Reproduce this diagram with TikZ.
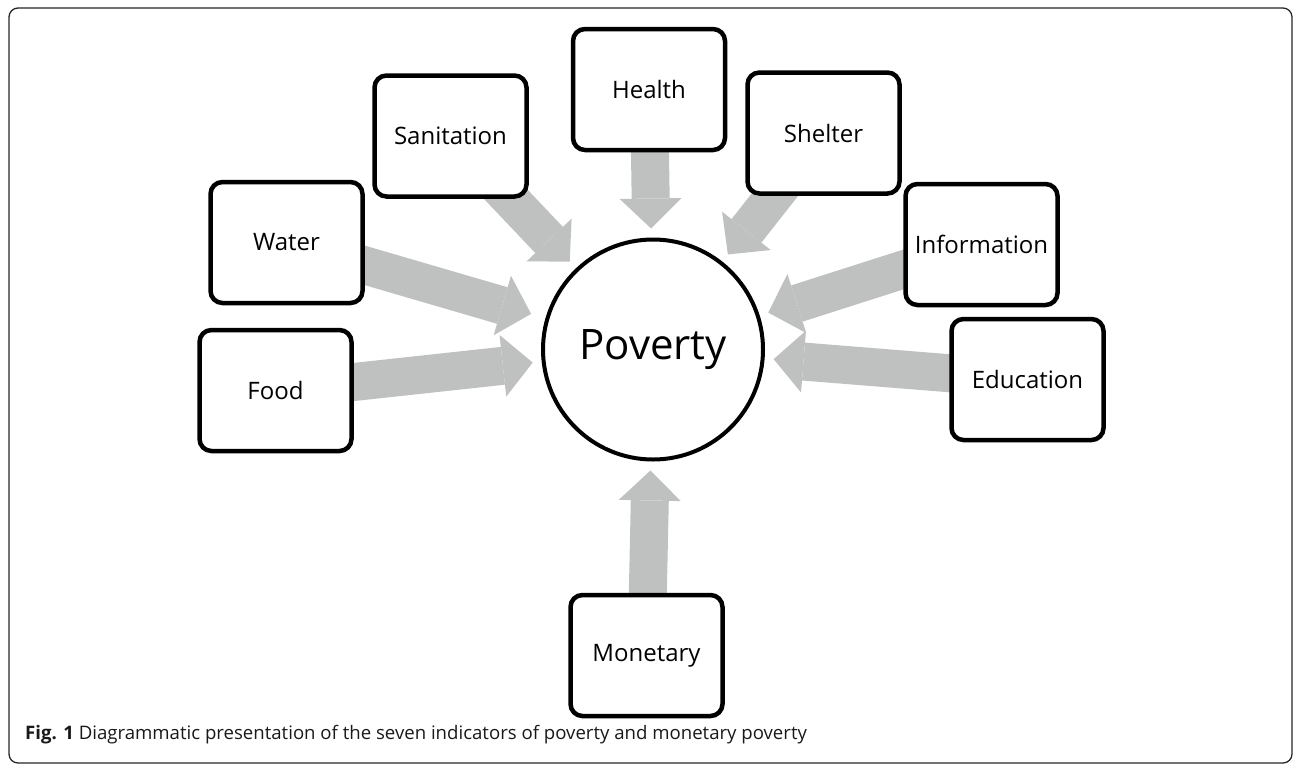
\documentclass[tikz,border=0pt]{standalone}
\usepackage{fontspec}
\setmainfont{Open Sans}
\usetikzlibrary{arrows.meta}
\usetikzlibrary{backgrounds}
\definecolor{flowgray}{RGB}{191,193,192}

\begin{document}
\begin{tikzpicture}[x=1pt,y=-1pt,
  indicator/.style={draw,line width=4.5pt,rounded corners=12pt,fill=white,minimum width=152pt,minimum height=121pt,inner sep=0pt,font=\fontsize{24}{28}\selectfont},
  flow/.style={draw=flowgray,line width=38pt,-{Triangle[length=30pt,width=62pt,line width=0pt]},shorten >=9pt}]
  \useasboundingbox (0,0) rectangle (1293,764);
  \draw[line width=1.3pt,rounded corners=9pt,black!85] (9,8) rectangle (1292,763);
  \node[draw,circle,line width=4pt,fill=white,minimum size=220pt,inner sep=0pt,font=\fontsize{42}{50}\selectfont] (poverty) at (653,349.5) {Poverty};
  \node[indicator] (sanitation) at (450.5,136) {Sanitation};
  \node[indicator] (health) at (649,89.5) {Health};
  \node[indicator] (shelter) at (823.5,133) {Shelter};
  \node[indicator] (water) at (286.5,242.5) {Water};
  \node[indicator] (information) at (981.5,244.5) {Information};
  \node[indicator] (food) at (275.5,390.5) {Food};
  \node[indicator] (education) at (1027.5,379.5) {Education};
  \node[indicator] (monetary) at (646.5,655.5) {Monetary};
  \begin{scope}[on background layer]
    \draw[flow] (sanitation.center) -- (poverty);
    \draw[flow] (health.center) -- (poverty);
    \draw[flow] (shelter.center) -- (poverty);
    \draw[flow,shorten >=15pt] (water.center) -- (poverty);
    \draw[flow] (information.center) -- (poverty);
    \draw[flow] (food.center) -- (poverty);
    \draw[flow] (education.center) -- (poverty);
    \draw[flow] (monetary.center) -- (poverty);
  \end{scope}
  \node[anchor=base west,inner sep=0pt,text=black!90,font=\fontsize{18.6}{22}\selectfont] (caption) at (25,739) {\textbf{Fig. 1} Diagrammatic presentation of the seven indicators of poverty and monetary poverty};
\end{tikzpicture}
\end{document}
